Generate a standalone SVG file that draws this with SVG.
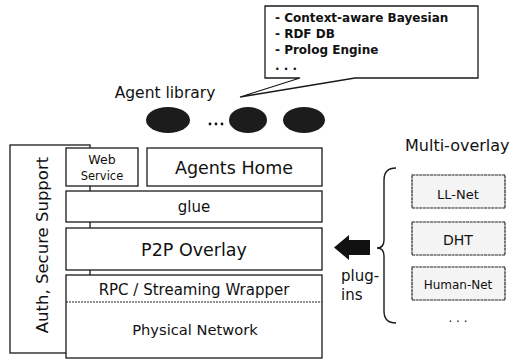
<svg xmlns="http://www.w3.org/2000/svg" width="510" height="359" viewBox="0 0 510 359">
<style>
text{font-family:"DejaVu Sans","Liberation Sans",sans-serif;fill:#111}
.box{fill:#fff;stroke:#1a1a1a;stroke-width:1.3}
.rbox{fill:#f4f4f4;stroke:#222;stroke-width:1.2;stroke-dasharray:3 0.6}
.lbl{text-anchor:middle}
.blt{font-size:12px;font-weight:bold}
.agent{fill:#1c1c1c}
</style>
<rect width="510" height="359" fill="#fff"/>
<g id="callout">
<path d="M265,6 H478 V78 H355 L240,97 L300,78 H265 Z" fill="#fff" stroke="#1a1a1a" stroke-width="1.3"/>
<text class="blt" x="275" y="22">- Context-aware Bayesian</text>
<text class="blt" x="275" y="38">- RDF DB</text>
<text class="blt" x="275" y="54">- Prolog Engine</text>
<text class="blt" x="275" y="70">. . .</text>
</g>
<g id="agent-library">
<text x="165" y="98" class="lbl" font-size="15.5">Agent library</text>
<ellipse class="agent" cx="168" cy="120" rx="22" ry="13"/>
<circle cx="210" cy="124" r="1.4" fill="#111"/>
<circle cx="216" cy="124" r="1.4" fill="#111"/>
<circle cx="222" cy="124" r="1.4" fill="#111"/>
<ellipse class="agent" cx="248" cy="120" rx="19" ry="13"/>
<ellipse class="agent" cx="304" cy="120" rx="21" ry="13"/>
</g>
<g id="auth">
<rect class="box" x="10" y="145" width="80" height="208"/>
<text class="lbl" font-size="16.5" transform="translate(48,245) rotate(-90)">Auth, Secure Support</text>
</g>
<g id="web-service">
<rect class="box" x="66" y="148" width="72" height="38"/>
<text x="102" y="164" font-size="12.5" text-anchor="middle">Web</text>
<text x="102" y="180" font-size="11.5" text-anchor="middle">Service</text>
</g>
<g id="agents-home">
<rect class="box" x="147" y="148" width="175" height="38"/>
<text class="lbl" x="234" y="174" font-size="17.5">Agents Home</text>
</g>
<g id="glue">
<rect class="box" x="66" y="191" width="256" height="31"/>
<text class="lbl" x="194" y="212" font-size="15">glue</text>
</g>
<g id="p2p-overlay">
<rect class="box" x="66" y="228" width="256" height="42"/>
<text class="lbl" x="194" y="256" font-size="17.5">P2P Overlay</text>
</g>
<g id="rpc-physical">
<rect class="box" x="66" y="275" width="256" height="83"/>
<line x1="66" y1="302" x2="322" y2="302" stroke="#222" stroke-width="1" stroke-dasharray="2 1"/>
<text class="lbl" x="194" y="295" font-size="15">RPC / Streaming Wrapper</text>
<text class="lbl" x="195" y="335" font-size="14.7">Physical Network</text>
</g>
<g id="multi-overlay">
<text x="405" y="151" font-size="16">Multi-overlay</text>
<path d="M396,168 Q384,168 384,180 V240 Q384,248 377,248 Q384,248 384,256 V311 Q384,323 396,323" fill="none" stroke="#1a1a1a" stroke-width="1.4"/>
</g>
<g id="ll-net">
<rect class="rbox" x="412" y="175" width="93" height="33"/>
<text class="lbl" x="458" y="199" font-size="13">LL-Net</text>
</g>
<g id="dht">
<rect class="rbox" x="412" y="222" width="93" height="33"/>
<text class="lbl" x="458" y="245" font-size="14">DHT</text>
</g>
<g id="human-net">
<rect class="rbox" x="412" y="267" width="93" height="33"/>
<text class="lbl" x="458" y="289" font-size="12">Human-Net</text>
</g>
<text x="458" y="322" font-size="12" text-anchor="middle">. . .</text>
<g id="connectors">
<path d="M370,240 H349 V235 L334,247.5 L349,260 V255 H370 Z" fill="#111"/>
<text x="341" y="281" font-size="15">plug-</text>
<text x="341" y="300" font-size="15">ins</text>
</g>
</svg>
